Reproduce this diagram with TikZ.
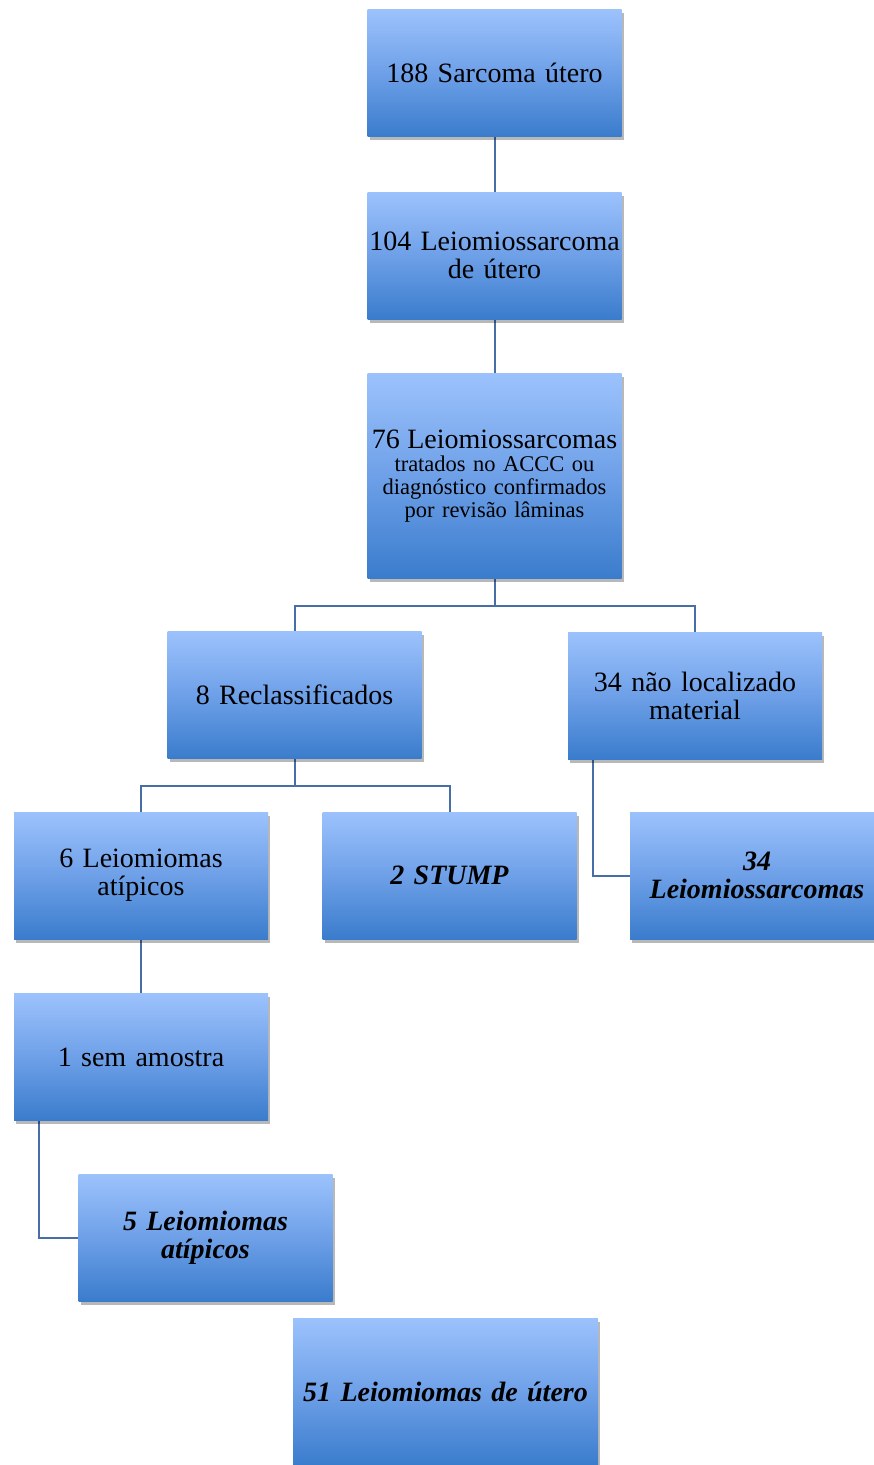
\documentclass[tikz,border=0pt]{standalone}
\usepackage{fontspec}
\setmainfont[WordSpace={0.8,0,0}]{Liberation Serif}
\usetikzlibrary{shadows,backgrounds}
\hyphenpenalty=10000
\exhyphenpenalty=10000
\definecolor{boxtop}{RGB}{156,194,252}
\definecolor{boxmid}{RGB}{110,160,232}
\definecolor{boxbot}{RGB}{58,124,204}
\definecolor{linecol}{RGB}{72,110,168}
\tikzset{
  fbox/.style={rectangle, inner xsep=-13pt, inner ysep=0pt, minimum width=254pt, minimum height=127pt,
    text width=280pt, align=center, top color=boxtop, bottom color=boxbot, middle color=boxmid,
    font=\fontsize{28}{28}\selectfont,
    drop shadow={shadow xshift=2pt, shadow yshift=-3.5pt, fill=black, opacity=0.28}},
  emph/.style={font=\fontsize{28}{28}\selectfont\bfseries\itshape},
  conn/.style={draw=linecol, line width=2pt}
}
\begin{document}
\begin{tikzpicture}[x=1pt,y=-1pt]
\path[use as bounding box] (0,0) rectangle (874,1465);
\clip (0,0) rectangle (874,1465);
\node[fbox] (n1) at (494.5,73) {188 Sarcoma útero};
\node[fbox] (n2) at (494.5,255.5) {104 Leiomiossarcoma\\de útero};
\node[fbox, minimum height=205pt, font=\fontsize{22.5}{23}\selectfont] (n3) at (494.5,476) {{\fontsize{28}{28}\selectfont 76 Leiomiossarcomas}\\tratados no ACCC ou\\diagnóstico confirmados\\por revisão lâminas};
\node[fbox] (n4) at (294.5,695) {8 Reclassificados};
\node[fbox] (n5) at (695,695.5) {34 não localizado\\material};
\node[fbox] (n6) at (141,875.5) {6 Leiomiomas\\atípicos};
\node[fbox, emph] (n7) at (449.5,875.5) {2 STUMP};
\node[fbox, emph] (n8) at (757,875.5) {34\\Leiomiossarcomas};
\node[fbox] (n9) at (141,1057) {1 sem amostra};
\node[fbox, emph] (n10) at (205.5,1237.5) {5 Leiomiomas\\atípicos};
\node[fbox, emph, minimum width=305pt, text width=330pt, minimum height=148pt] (n11) at (445.5,1392) {51 Leiomiomas de útero};
\begin{scope}[on background layer]
\draw[conn] (n1.south) -- (n2.north);
\draw[conn] (n2.south) -- (n3.north);
\draw[conn] (n3.south) -- ++(0,27) -| (n4.north);
\draw[conn] (n3.south) -- ++(0,27) -| (n5.north);
\draw[conn] (n4.south) -- ++(0,27) -| (n6.north);
\draw[conn] (n4.south) -- ++(0,27) -| (n7.north);
\draw[conn] ([xshift=25pt]n5.south west) |- (n8.west);
\draw[conn] (n6.south) -- (n9.north);
\draw[conn] ([xshift=25pt]n9.south west) |- (n10.west);
\end{scope}
\end{tikzpicture}
\end{document}
